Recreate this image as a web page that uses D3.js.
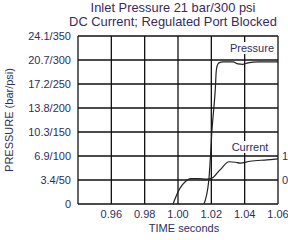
<!DOCTYPE html>
<html>
<head>
<meta charset="utf-8">
<script src="https://cdn.jsdelivr.net/npm/d3@7"></script>
<style>
  body { margin: 0; background: #fff; }
  text { font-family: "Liberation Sans", Arial, sans-serif; }
</style>
</head>
<body>
<div id="chart"></div>
<script>
// Chart data
let titleLines = ["Inlet Pressure 21 bar/300 psi", "DC Current; Regulated Port Blocked"];
let xTicks = [0.96, 0.98, 1.00, 1.02, 1.04, 1.06];
let yTicks = [0, 50, 100, 150, 200, 250, 300, 350];
let yTickLabels = ["0", "3.4/50", "6.9/100", "10.3/150", "13.8/200", "17.2/250", "20.7/300", "24.1/350"];
let rightTickValues = [50, 100];
let rightTickLabels = ["0", "1"];

// Pressure trace (time s, psi)
let pressureT = [1.0156, 1.0185, 1.0195, 1.0203, 1.0215, 1.0224, 1.0229, 1.0235, 1.0246, 1.027, 1.033, 1.036, 1.039, 1.042, 1.048, 1.06];
let pressureV = [0, 50, 100, 150, 200, 240, 275, 288, 294, 296, 296, 292, 291, 294, 296, 296];

// Current trace (time s, psi-equivalent scale)
let currentT = [0.997, 1.0012, 1.0045, 1.0075, 1.012, 1.0174, 1.0204, 1.0252, 1.0306, 1.0345, 1.0372, 1.0432, 1.0534, 1.06];
let currentV = [0, 33, 47, 53, 53, 52, 54, 71, 88, 87, 85, 89, 92, 94];

let width = 288;
let height = 240;
let margin = { left: 78, right: 10, top: 36, bottom: 36 };
let textColor = "#2d2f5c";

let svg = d3.select("#chart")
  .append("svg")
  .attr("width", width)
  .attr("height", height);

let x = d3.scaleLinear().domain([0.94, 1.06]).range([margin.left, width - margin.right]);
let y = d3.scaleLinear().domain([0, 350]).range([height - margin.bottom, margin.top]);

// Title
svg.selectAll(".title")
  .data(titleLines)
  .join("text")
  .attr("class", "title")
  .attr("x", 173)
  .attr("y", (d, i) => 12 + i * 13.5)
  .attr("text-anchor", "middle")
  .style("font-size", "12.9px")
  .style("fill", "#3a2a5c")
  .text(d => d);

// Grid
let grid = svg.append("g");
grid.selectAll(".vgrid")
  .data(xTicks)
  .join("line")
  .attr("x1", d => x(d)).attr("x2", d => x(d))
  .attr("y1", y(0)).attr("y2", y(350))
  .attr("stroke", "#111").attr("stroke-width", 1.3);
grid.selectAll(".hgrid")
  .data(yTicks)
  .join("line")
  .attr("x1", x(0.94)).attr("x2", x(1.06))
  .attr("y1", d => y(d)).attr("y2", d => y(d))
  .attr("stroke", "#111").attr("stroke-width", 1.3);
grid.append("line")
  .attr("x1", x(0.94)).attr("x2", x(0.94))
  .attr("y1", y(0)).attr("y2", y(350))
  .attr("stroke", "#111").attr("stroke-width", 1.3);

// Y tick labels
svg.selectAll(".ylab")
  .data(yTicks)
  .join("text")
  .attr("x", margin.left - 7)
  .attr("y", d => y(d) + 4)
  .attr("text-anchor", "end")
  .style("font-size", "11px")
  .style("fill", textColor)
  .text((d, i) => yTickLabels[i]);

// Right tick labels (cut off at the edge)
svg.selectAll(".rlab")
  .data(rightTickValues)
  .join("text")
  .attr("x", width - margin.right + 4)
  .attr("y", d => y(d) + 4)
  .style("font-size", "11px")
  .style("fill", textColor)
  .text((d, i) => rightTickLabels[i]);

// X tick labels
svg.selectAll(".xlab")
  .data(xTicks)
  .join("text")
  .attr("x", d => x(d))
  .attr("y", y(0) + 14)
  .attr("text-anchor", "middle")
  .style("font-size", "11px")
  .style("fill", textColor)
  .text(d => d.toFixed(2));

// Axis titles
svg.append("text")
  .attr("x", 184)
  .attr("y", 232)
  .attr("text-anchor", "middle")
  .style("font-size", "11px")
  .style("fill", textColor)
  .text("TIME seconds");

svg.append("text")
  .attr("transform", `translate(13, ${(margin.top + height - margin.bottom) / 2}) rotate(-90)`)
  .attr("text-anchor", "middle")
  .style("font-size", "11px")
  .style("fill", textColor)
  .text("PRESSURE (bar/psi)");

// Traces
let line = d3.line().x(d => x(d[0])).y(d => y(d[1])).curve(d3.curveMonotoneX);
let pressureData = pressureT.map((t, i) => [t, pressureV[i]]);
let currentData = currentT.map((t, i) => [t, currentV[i]]);

svg.append("path")
  .datum(currentData)
  .attr("d", line)
  .attr("fill", "none")
  .attr("stroke", "#222")
  .attr("stroke-width", 1.2);

svg.append("path")
  .datum(pressureData)
  .attr("d", line)
  .attr("fill", "none")
  .attr("stroke", "#222")
  .attr("stroke-width", 1.2);

// Labels with white backing
function boxedLabel(label, cx, cy) {
  let g = svg.append("g");
  let t = g.append("text")
    .attr("x", cx)
    .attr("y", cy + 4)
    .attr("text-anchor", "middle")
    .style("font-size", "11px")
    .style("fill", textColor)
    .text(label);
  let b = t.node().getBBox();
  g.insert("rect", "text")
    .attr("x", b.x - 1).attr("y", b.y)
    .attr("width", b.width + 2).attr("height", b.height)
    .attr("fill", "#fff");
}
boxedLabel("Pressure", 252, 48);
boxedLabel("Current", 250, 147);
</script>
</body>
</html>
